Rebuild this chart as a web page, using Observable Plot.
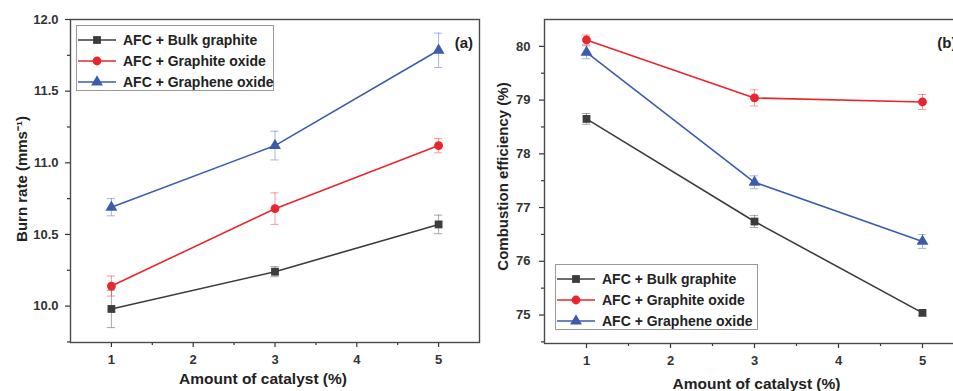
<!DOCTYPE html>
<html>
<head>
<meta charset="utf-8">
<script src="https://cdn.jsdelivr.net/npm/d3@7"></script>
<script src="https://cdn.jsdelivr.net/npm/@observablehq/plot@0.6"></script>
<style>
  html, body { margin: 0; padding: 0; background: #fff; overflow: hidden; }
  #wrap { position: relative; width: 953px; height: 391px; overflow: hidden; font-family: 'Liberation Sans', Arial, sans-serif; }
  .panel { position: absolute; top: 0; }
  .panel svg { max-width: none !important; }
  .legend { position: absolute; border: 1px solid #9a9a9a; background: #fff; box-sizing: border-box; }
  .legend .row { position: absolute; left: 0; height: 21px; display: flex; align-items: center; white-space: nowrap; }
  .legend .row span { font-weight: bold; font-size: 14px; color: #222; margin-left: 6px; }
</style>
</head>
<body>
<div id="wrap">
  <div id="pa" class="panel" style="left:0px; width:480px"></div>
  <div id="pb" class="panel" style="left:480px; width:485px"></div>
  <div id="la" class="legend" style="left:76px; top:25px; width:198px; height:66px"></div>
  <div id="lb" class="legend" style="left:555px; top:264px; width:203px; height:66px"></div>
</div>
<script>
// ---- data ----
const amounts = [1, 3, 5];
const seriesNames = ["AFC + Bulk graphite", "AFC + Graphite oxide", "AFC + Graphene oxide"];
const seriesColors = ["#3c3c3c", "#e8262b", "#3b5cae"];
const seriesSymbols = ["square", "circle", "triangle"];

const burnBulk = [9.98, 10.24, 10.57];
const burnBulkErr = [0.13, 0.035, 0.065];
const burnGraphite = [10.14, 10.68, 11.12];
const burnGraphiteErr = [0.07, 0.11, 0.05];
const burnGraphene = [10.69, 11.12, 11.785];
const burnGrapheneErr = [0.06, 0.10, 0.12];

const effBulk = [78.65, 76.74, 75.04];
const effBulkErr = [0.10, 0.11, 0.05];
const effGraphite = [80.12, 79.04, 78.965];
const effGraphiteErr = [0.09, 0.15, 0.14];
const effGraphene = [79.89, 77.47, 76.37];
const effGrapheneErr = [0.12, 0.12, 0.13];

const xTicks = [1, 2, 3, 4, 5];
const xMinorTicks = [1.5, 2.5, 3.5, 4.5];
const burnTicks = [10.0, 10.5, 11.0, 11.5, 12.0];
const burnMinorTicks = [9.75, 10.25, 10.75, 11.25, 11.75];
const effTicks = [75, 76, 77, 78, 79, 80];
const effMinorTicks = [74.5, 75.5, 76.5, 77.5, 78.5, 79.5];

const xTitle = "Amount of catalyst (%)";
const burnTitle = "Burn rate (mms\u207B\u00B9)";
const effTitle = "Combustion efficiency (%)";

// ---- build tables ----
function table(vals, errs) {
  const rows = [];
  seriesNames.forEach((s, i) => {
    amounts.forEach((x, j) => rows.push({series: s, x, y: vals[i][j], e: errs[i][j]}));
  });
  return rows;
}
const burnData = table([burnBulk, burnGraphite, burnGraphene], [burnBulkErr, burnGraphiteErr, burnGrapheneErr]);
const effData = table([effBulk, effGraphite, effGraphene], [effBulkErr, effGraphiteErr, effGrapheneErr]);

function panel(o) {
  const data = o.data;
  return Plot.plot({
    width: o.width, height: 391,
    marginLeft: o.marginLeft, marginRight: o.marginRight, marginTop: 19, marginBottom: o.marginBottom,
    style: {fontFamily: "'Liberation Sans', Arial, sans-serif", fontSize: "13px", fontWeight: "bold", color: "#333", background: "transparent", overflow: "visible", maxWidth: "none"},
    x: {domain: [0.5, 5.5]},
    y: {domain: o.yDomain},
    color: {domain: seriesNames, range: seriesColors},
    symbol: {domain: seriesNames, range: seriesSymbols},
    marks: [
      Plot.axisX({ticks: xTicks, tickSize: 5, tickPadding: 7, tickFormat: d => d, label: null, strokeWidth: 1.2}),
      Plot.axisX({ticks: xMinorTicks, tickSize: 3, tickFormat: () => "", label: null, strokeWidth: 1.2}),
      Plot.axisY({ticks: o.yTicks, tickSize: 5, tickPadding: o.yPad, tickFormat: o.yFormat, label: null, strokeWidth: 1.2}),
      Plot.axisY({ticks: o.yMinor, tickSize: 3, tickFormat: () => "", label: null, strokeWidth: 1.2}),
      Plot.frame({stroke: "#4a4a4a", strokeWidth: 1.4}),
      Plot.line(data, {x: "x", y: "y", z: "series", stroke: "series", strokeWidth: 1.6}),
      Plot.ruleX(data, {x: "x", y1: d => d.y - d.e, y2: d => d.y + d.e, stroke: "series", strokeOpacity: 0.45, strokeWidth: 1}),
      Plot.ruleY(data, {y: d => d.y + d.e, x1: d => d.x - 0.05, x2: d => d.x + 0.05, stroke: "series", strokeOpacity: 0.45, strokeWidth: 1}),
      Plot.ruleY(data, {y: d => d.y - d.e, x1: d => d.x - 0.05, x2: d => d.x + 0.05, stroke: "series", strokeOpacity: 0.45, strokeWidth: 1}),
      Plot.dot(data, {x: "x", y: "y", fill: "series", symbol: "series", r: 4.4, stroke: "none"}),
      Plot.text([o.yTitle], {text: d => d, frameAnchor: "left", textAnchor: "middle", lineAnchor: "middle", dx: o.yTitleDx, dy: o.yTitleDy, rotate: -90, fontSize: 15, fontWeight: "bold", fill: "#222"}),
      Plot.text([xTitle], {text: d => d, frameAnchor: "bottom", dx: o.xTitleDx, dy: o.xTitleDy, fontSize: 15.5, fontWeight: "bold", fill: "#222"}),
      Plot.text([o.tag], {text: d => d, frameAnchor: "top-right", textAnchor: "end", dx: o.tagDx, dy: 17.5, fontSize: 15, fontWeight: "bold", fill: "#222"})
    ]
  });
}

document.getElementById("pa").append(panel({
  data: burnData, width: 480, marginLeft: 70, marginRight: 1, marginBottom: 49,
  yDomain: [9.746, 12.0], yTicks: burnTicks, yMinor: burnMinorTicks, yFormat: ".1f", yPad: 7,
  yTitle: burnTitle, yTitleDx: -48, yTitleDy: -2, xTitleDx: -12, xTitleDy: 41, tag: "(a)", tagDx: -6.5
}));
document.getElementById("pb").append(panel({
  data: effData, width: 485, marginLeft: 64, marginRight: 1, marginBottom: 48,
  yDomain: [74.47, 80.5], yTicks: effTicks, yMinor: effMinorTicks, yFormat: "d", yPad: 9,
  yTitle: effTitle, yTitleDx: -41, yTitleDy: -5, xTitleDx: 2, xTitleDy: 45, tag: "(b)", tagDx: -8
}));

// ---- legends ----
function legend(id) {
  const box = document.getElementById(id);
  seriesNames.forEach((s, i) => {
    const row = document.createElement("div");
    row.className = "row";
    row.style.top = (3 + i * 21) + "px";
    const svg = d3.create("svg").attr("width", 40).attr("height", 14);
    svg.append("line").attr("x1", 1).attr("x2", 39).attr("y1", 7).attr("y2", 7)
      .attr("stroke", seriesColors[i]).attr("stroke-width", 1.6);
    const sym = {square: d3.symbolSquare, circle: d3.symbolCircle, triangle: d3.symbolTriangle}[seriesSymbols[i]];
    svg.append("path").attr("transform", "translate(20,7)")
      .attr("d", d3.symbol(sym, 4.4 * 4.4 * Math.PI)()).attr("fill", seriesColors[i]);
    row.append(svg.node());
    const span = document.createElement("span");
    span.textContent = s;
    row.append(span);
    box.append(row);
  });
}
legend("la");
legend("lb");
</script>
</body>
</html>
